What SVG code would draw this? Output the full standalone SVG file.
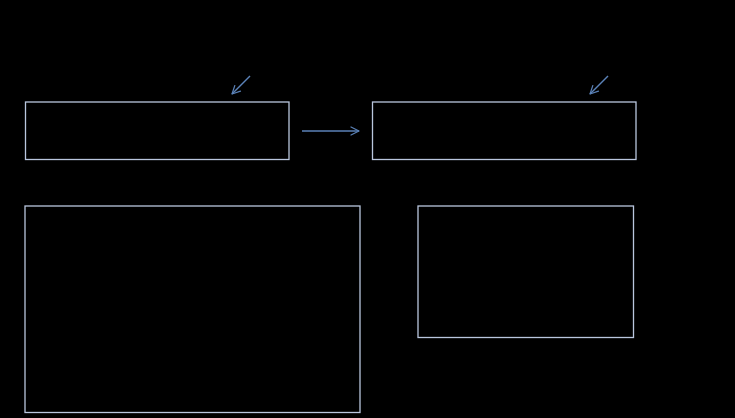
<svg xmlns="http://www.w3.org/2000/svg" width="735" height="418" viewBox="0 0 735 418">
<defs>
<style>
.box{fill:#000;stroke:#b9c6de;stroke-width:1.3}
.conn{fill:none;stroke:#5b82b8;stroke-width:1.5}
.head{fill:none;stroke:#5b82b8;stroke-width:1.2;stroke-linecap:round;stroke-linejoin:round}
</style>
<marker id="open" viewBox="0 0 10 10" refX="9" refY="5" markerWidth="10" markerHeight="10" markerUnits="userSpaceOnUse" orient="auto">
<path d="M1,1 L9,5 L1,9" class="head"/>
</marker>
</defs>
<rect width="735" height="418" fill="#000"/>
<g id="node1"><rect class="box" x="25.5" y="102" width="263.5" height="57.5"/></g>
<g id="node2"><rect class="box" x="372.5" y="102" width="263.5" height="57.5"/></g>
<g id="node3"><rect class="box" x="25" y="206" width="335" height="206.5"/></g>
<g id="node4"><rect class="box" x="418" y="206" width="215.5" height="131.5"/></g>
<g id="connectors">
<line class="conn" x1="302" y1="131" x2="359" y2="131" marker-end="url(#open)"/>
<line class="conn" x1="250" y1="76" x2="232" y2="94" marker-end="url(#open)"/>
<line class="conn" x1="608" y1="76" x2="590" y2="94" marker-end="url(#open)"/>
</g>
</svg>
